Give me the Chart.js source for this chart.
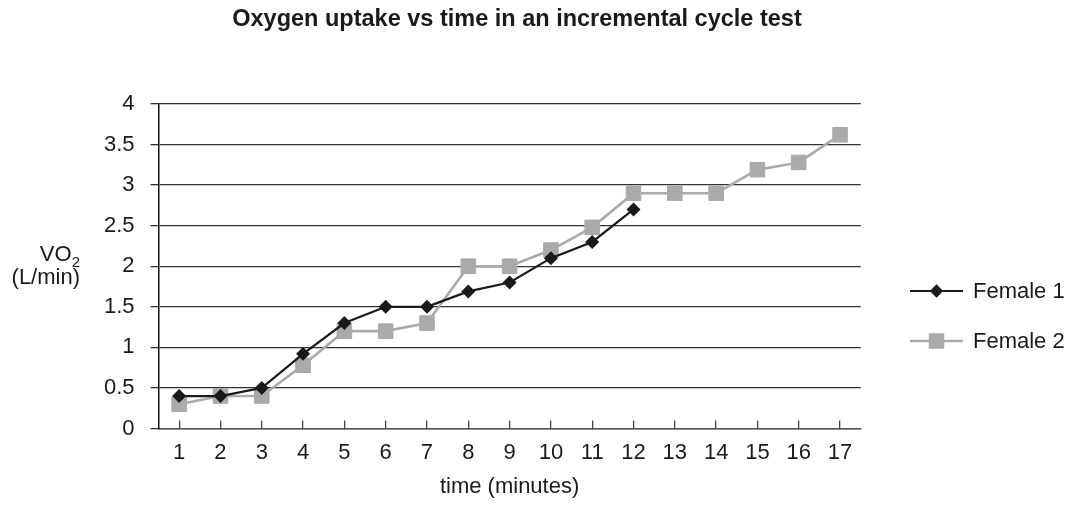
<!DOCTYPE html>
<html>
<head>
<meta charset="utf-8">
<title>Oxygen uptake vs time</title>
<script src="https://cdn.jsdelivr.net/npm/chart.js@4.4.1/dist/chart.umd.min.js"></script>
<style>
    html, body { margin: 0; padding: 0; background: #fff; }
    #wrap { width: 1078px; height: 511px; }
</style>
</head>
<body>
<div id="wrap"><canvas id="vo2Chart"></canvas></div>
<script>
// Values
const minutes = ['1', '2', '3', '4', '5', '6', '7', '8', '9', '10', '11', '12', '13', '14', '15', '16', '17'];
const female1 = [0.4, 0.4, 0.5, 0.92, 1.3, 1.5, 1.5, 1.69, 1.8, 2.1, 2.3, 2.7];
const female2 = [0.3, 0.4, 0.4, 0.78, 1.2, 1.2, 1.3, 2.0, 2.0, 2.2, 2.48, 2.9, 2.9, 2.9, 3.19, 3.28, 3.62];
const yTicks = [0, 0.5, 1, 1.5, 2, 2.5, 3, 3.5, 4];
const seriesNames = ['Female 1', 'Female 2'];
const chartTitle = 'Oxygen uptake vs time in an incremental cycle test';
const xTitle = 'time (minutes)';

const FONT = '"Liberation Sans", Arial, sans-serif';
const textColor = '#1a1a1a';

// Title, y-axis label and legend drawn straight on the canvas
const extrasPlugin = {
    id: 'extras',
    afterDraw(chart) {
        const ctx = chart.ctx;
        ctx.save();
        ctx.fillStyle = textColor;
        ctx.textBaseline = 'alphabetic';

        // Title
        ctx.font = 'bold 23.5px ' + FONT;
        ctx.textAlign = 'center';
        ctx.fillText(chartTitle, 517, 26);

        // Y axis label: VO2 over (L/min)
        ctx.textAlign = 'right';
        ctx.font = '15px ' + FONT;
        const subW = ctx.measureText('2').width;
        ctx.fillText('2', 80, 267);
        ctx.font = '22px ' + FONT;
        ctx.fillText('VO', 80 - subW, 260.5);
        ctx.fillText('(L/min)', 80, 284);

        // Legend
        ctx.textAlign = 'left';
        chart.data.datasets.forEach((ds, i) => {
            const y = 291 + i * 50;
            ctx.strokeStyle = ds.borderColor;
            ctx.lineWidth = ds.borderWidth;
            ctx.beginPath();
            ctx.moveTo(910, y);
            ctx.lineTo(963, y);
            ctx.stroke();

            ctx.fillStyle = ds.pointBackgroundColor;
            if (ds.pointStyle === 'rectRot') {
                const r = ds.pointRadius + 0.7;
                ctx.beginPath();
                ctx.moveTo(936.5 - r, y);
                ctx.lineTo(936.5, y - r);
                ctx.lineTo(936.5 + r, y);
                ctx.lineTo(936.5, y + r);
                ctx.closePath();
                ctx.fill();
            } else {
                const s = 15.5;
                ctx.fillRect(936.5 - s / 2, y - s / 2, s, s);
            }

            ctx.fillStyle = textColor;
            ctx.font = '22px ' + FONT;
            ctx.fillText(ds.label, 973, y + 6.5);
        });
        ctx.restore();
    }
};

const ctx = document.getElementById('vo2Chart').getContext('2d');
new Chart(ctx, {
    type: 'line',
    data: {
        labels: minutes,
        datasets: [{
            label: seriesNames[0],
            data: female1,
            borderColor: '#1a1a1a',
            borderWidth: 2.2,
            pointStyle: 'rectRot',
            pointRadius: 6,
            pointBorderWidth: 1.4,
            pointBackgroundColor: '#1a1a1a',
            pointBorderColor: '#1a1a1a',
            tension: 0
        }, {
            label: seriesNames[1],
            data: female2,
            borderColor: '#aaaaaa',
            borderWidth: 2.6,
            pointStyle: 'rect',
            pointRadius: 10.3,
            pointBorderWidth: 1,
            pointBackgroundColor: '#aaaaaa',
            pointBorderColor: '#aaaaaa',
            tension: 0
        }]
    },
    options: {
        responsive: true,
        maintainAspectRatio: false,
        animation: false,
        layout: {
            padding: { top: 104, right: 217.3, bottom: 0, left: 0 }
        },
        plugins: {
            legend: { display: false },
            title: { display: false },
            tooltip: { enabled: false }
        },
        scales: {
            x: {
                type: 'category',
                offset: true,
                grid: {
                    display: true,
                    offset: false,
                    drawOnChartArea: false,
                    drawTicks: true,
                    tickLength: -8,
                    color: '#444',
                    lineWidth: 1.3
                },
                border: { display: true, color: '#555', width: 1.5 },
                ticks: {
                    color: textColor,
                    padding: 19.4,
                    maxRotation: 0,
                    autoSkip: false,
                    font: { family: FONT, size: 22 }
                },
                title: {
                    display: true,
                    text: xTitle,
                    color: textColor,
                    padding: { top: 0, bottom: 10.4 },
                    font: { family: FONT, size: 22 }
                },
                afterFit: scale => { scale.height = 82.5; }
            },
            y: {
                min: 0,
                max: 4,
                afterBuildTicks: scale => {
                    scale.ticks = yTicks.map(v => ({ value: v }));
                },
                grid: {
                    color: '#333',
                    lineWidth: 1.3,
                    drawTicks: true,
                    tickLength: 8
                },
                border: { display: true, color: '#111', width: 1.5 },
                ticks: {
                    color: textColor,
                    padding: 16,
                    font: { family: FONT, size: 22 },
                    callback: v => String(v)
                },
                afterFit: scale => { scale.width = 158.5; }
            }
        }
    },
    plugins: [extrasPlugin]
});
</script>
</body>
</html>
